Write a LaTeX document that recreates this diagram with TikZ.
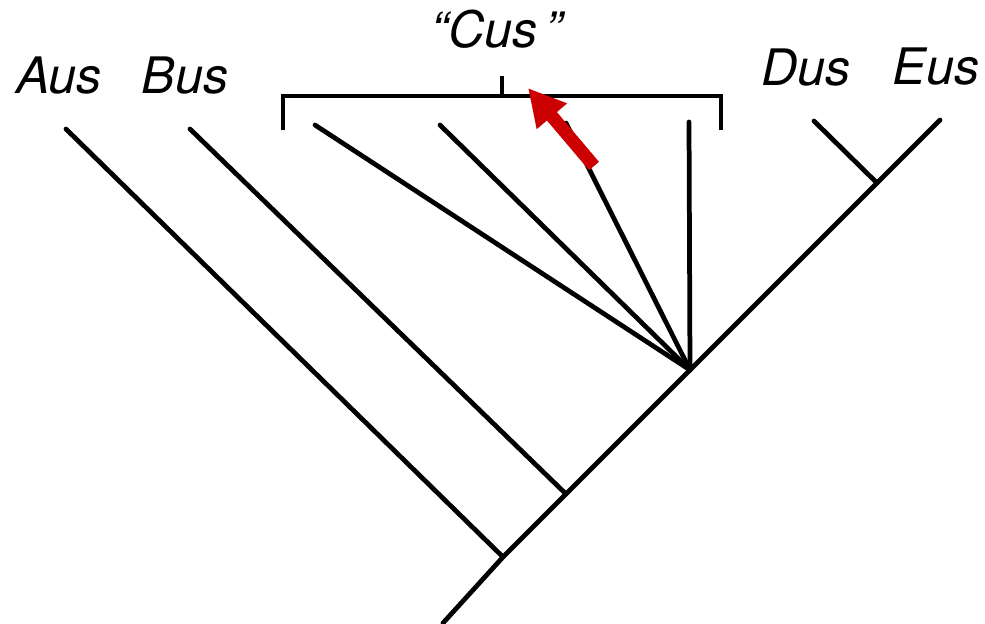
\documentclass[tikz,border=0pt]{standalone}
\usepackage{fontspec}
\setmainfont{TeX Gyre Heros}
\usetikzlibrary{arrows.meta}
\definecolor{arrowred}{RGB}{204,0,0}
\begin{document}
\begin{tikzpicture}[x=0.01cm,y=-0.01cm,
  branch/.style={line width=1.35pt,line cap=round},
  taxon/.style={anchor=base,inner sep=0pt,font=\fontsize{14.3}{16}\selectfont\itshape},
  pointer/.style={arrowred,line width=0.13cm,-{Triangle[length=0.37cm,width=0.37cm]}}]
\useasboundingbox (0,0) rectangle (985,623);

% junctions along the trunk
\coordinate (root) at (443,623);
\coordinate (nA) at (503,557);
\coordinate (nB) at (566,494);
\coordinate (nC) at (690,370);
\coordinate (nDE) at (877,183);

% branch tips
\coordinate (tA) at (66,129);
\coordinate (tB) at (190,129);
\coordinate (tC1) at (315,125);
\coordinate (tC2) at (440,125);
\coordinate (tC3) at (566,123);
\coordinate (tC4) at (689,122);
\coordinate (tD) at (814,121);
\coordinate (tE) at (940,120);

% trunk and side branches
\draw[branch] (root) -- (nA) -- (nB) -- (nC) -- (nDE) -- (tE);
\draw[branch] (nA) -- (tA);
\draw[branch] (nB) -- (tB);
\draw[branch] (nC) -- (tC1);
\draw[branch] (nC) -- (tC2);
\draw[branch] (nC) -- (tC3);
\draw[branch] (nC) -- (tC4);
\draw[branch] (nDE) -- (tD);

% bracket over the paraphyletic group
\coordinate (bL) at (283,130);
\coordinate (bR) at (721,130);
\coordinate (bTick) at (502,76);
\draw[branch,line cap=butt] (bL) -- (283,96) -- (721,96) -- (bR);
\draw[branch,line cap=butt] (502,96) -- (bTick);

% labels
\node[taxon] (Aus) at (59,93) {Aus};
\node[taxon] (Bus) at (185,93) {Bus};
\node[taxon] (Cus) at (497,47) {“Cus\,”};
\node[taxon] (Dus) at (806,85) {Dus};
\node[taxon] (Eus) at (936,84) {Eus};

% red pointer to the bracket
\coordinate (pStart) at (594,166);
\coordinate (pEnd) at (528,88);
\draw[pointer] (pStart) -- (pEnd);
\end{tikzpicture}
\end{document}
